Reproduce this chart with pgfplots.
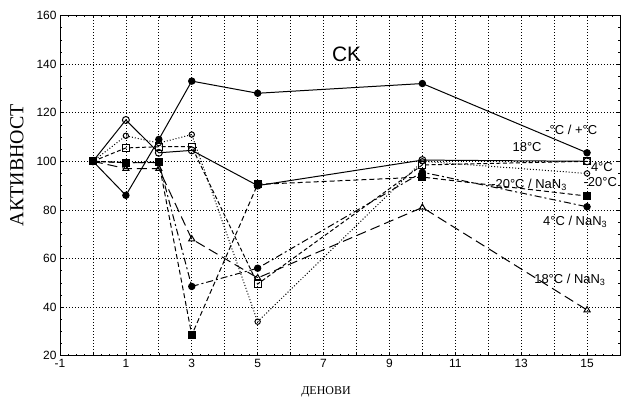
\documentclass[border=0pt]{standalone}
\usepackage{fontspec}
\setmainfont{Liberation Serif}
\newfontfamily\sansf{Liberation Sans}
\usepackage{pgfplots}
\pgfplotsset{compat=1.18}
\begin{document}
\begin{tikzpicture}
\path[use as bounding box] (-60bp,-43.3bp) rectangle (562bp,355.7bp);
\begin{axis}[
 at={(0,0)}, anchor=south west,
 width=560bp, height=340.2bp, scale only axis,
 xmin=-1, xmax=16, ymin=20, ymax=160,
 xtick={-1,0,...,16},
 xticklabels={-1,,1,,3,,5,,7,,9,,11,,13,,15,},
 ytick={20,40,...,160},
 minor x tick num=3, minor y tick num=3,
 tick align=inside,
 major tick length=3bp, minor tick length=2bp,
 grid=major,
 major grid style={black, line width=0.7pt, dash pattern=on 0.8pt off 2.2pt},
 axis line style={line width=1pt},
 tick style={black, line width=0.5pt},
 ticklabel style={font=\sansf\fontsize{12}{14}\selectfont},
 /pgf/number format/assume math mode=true,
 xlabel={ДЕНОВИ},
 xlabel style={font=\fontsize{12}{14}\selectfont, at={(axis description cs:0.475,-0.105)}, anchor=center},
 ylabel={АКТИВНОСТ},
 ylabel style={font=\fontsize{20}{22}\selectfont, at={(axis description cs:-0.077,0.56)}, anchor=center},
 clip=false,
]
% -C / +C
\addplot[black, line width=1pt, mark=*, mark size=3.2pt] coordinates {(0,100)(1,86)(2,109)(3,133)(5,128)(10,132)(15,103.5)};
% 18 C
\addplot[black, line width=1pt, mark=o, mark size=3.5pt, mark options={fill=white}] coordinates {(0,100)(1,117)(2,103.5)(3,104.5)(5,90)(10,100.5)(15,100)};
% 4 C
\addplot[black, line width=1pt, dash pattern=on 4pt off 2.5pt, mark=square, mark size=3.5pt, mark options={solid, fill=white}] coordinates {(0,100)(1,105.5)(2,106)(3,106)(5,49.5)(10,98.5)(15,100)};
% -20 C
\addplot[black, line width=1pt, dash pattern=on 1pt off 2pt, mark=o, mark size=2.7pt, mark options={solid, fill=white}] coordinates {(0,100)(1,110.5)(2,107.5)(3,111)(5,34)(10,100)(15,95)};
% 18 C / NaN3
\addplot[black, line width=1pt, dash pattern=on 10pt off 5pt, mark=triangle, mark size=3.5pt, mark options={solid, fill=white}] coordinates {(0,100)(1,97)(2,97)(3,68)(5,52)(10,81)(15,38.8)};
% 4 C / NaN3
\addplot[black, line width=1pt, dash pattern=on 7pt off 3pt on 2pt off 3pt, mark=*, mark size=3.2pt, mark options={solid}] coordinates {(0,100)(1,99.5)(2,99.5)(3,48.5)(5,56)(10,95.5)(15,81.3)};
% -20 C / NaN3
\addplot[black, line width=1pt, dash pattern=on 5pt off 3pt, mark=square*, mark size=3.5pt, mark options={solid}] coordinates {(0,100)(1,99.4)(2,99.6)(3,28.5)(5,90.5)(10,93.5)(15,85.7)};

\begin{scope}[every node/.style={font=\sansf\fontsize{13}{15}\selectfont, anchor=base, inner sep=0pt}]
\node at (axis cs:14.52,111.2) {-°C / +°C};
\node at (axis cs:13.18,104) {18°C};
\node at (axis cs:15.45,95.7) {4°C};
\node at (axis cs:15.4,89.8) {-20°C};
\node at (axis cs:13.24,89) {-20°C / NaN\textsubscript{3}};
\node at (axis cs:14.64,73.7) {4°C / NaN\textsubscript{3}};
\node at (axis cs:14.48,49.9) {18°C / NaN\textsubscript{3}};
\node[font=\sansf\fontsize{21}{23}\selectfont] at (axis cs:7.7,141) {CK};
\end{scope}
\end{axis}
\end{tikzpicture}
\end{document}
